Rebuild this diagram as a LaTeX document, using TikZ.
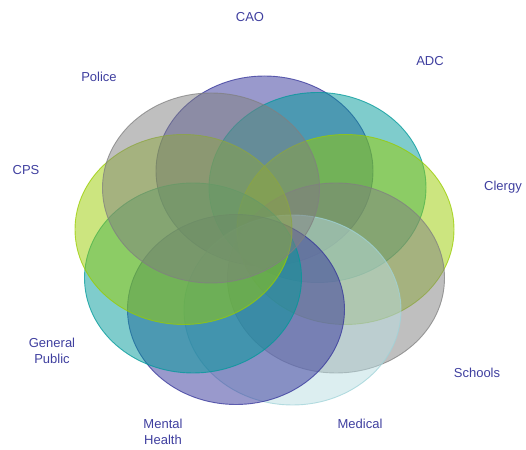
\documentclass[tikz,border=0pt]{standalone}
\usepackage{fontspec}
\setmainfont{Liberation Sans}
\definecolor{cpurple}{HTML}{333399}
\definecolor{cgray}{HTML}{808080}
\definecolor{cteal}{HTML}{009999}
\definecolor{cgreen}{HTML}{99CC00}
\definecolor{ccyan}{HTML}{B9DDE2}
\definecolor{ccyanedge}{HTML}{9FD3D8}
\definecolor{labelcol}{HTML}{3F3F9F}
\begin{document}
\begin{tikzpicture}[x=1pt,y=1pt,
  blob/.style={fill opacity=0.5,draw opacity=0.75,line width=0.9pt},
  lab/.style={text=labelcol,font=\fontsize{13}{15.5}\selectfont,align=center,inner sep=0pt}]
\useasboundingbox (0,0) rectangle (526,449);
\def\rx{108.5}\def\ry{95}
\path[blob,fill=cpurple,draw=cpurple] (264.5,278) ellipse [x radius=\rx,y radius=\ry];
\path[blob,fill=cteal,draw=cteal] (317.5,261.5) ellipse [x radius=\rx,y radius=\ry];
\path[blob,fill=cgreen,draw=cgreen] (345.5,219.5) ellipse [x radius=\rx,y radius=\ry];
\path[blob,fill=cgray,draw=cgray] (336,171) ellipse [x radius=\rx,y radius=\ry];
\path[blob,fill=ccyan,draw=ccyanedge] (292.5,139) ellipse [x radius=\rx,y radius=\ry];
\path[blob,fill=cpurple,draw=cpurple] (236,139.5) ellipse [x radius=\rx,y radius=\ry];
\path[blob,fill=cteal,draw=cteal] (193,171) ellipse [x radius=\rx,y radius=\ry];
\path[blob,fill=cgreen,draw=cgreen] (183.5,219.5) ellipse [x radius=\rx,y radius=\ry];
\path[blob,fill=cgray,draw=cgray] (211,261) ellipse [x radius=\rx,y radius=\ry];
\node[lab] (cao) at (250,432) {CAO};
\node[lab] (adc) at (430,388) {ADC};
\node[lab] (clergy) at (503,262) {Clergy};
\node[lab] (schools) at (477,76) {Schools};
\node[lab] (medical) at (360,25) {Medical};
\node[lab] (mental) at (163,17) {Mental\\Health};
\node[lab] (public) at (52,98) {General\\Public};
\node[lab] (cps) at (26,279) {CPS};
\node[lab] (police) at (99,372) {Police};
\end{tikzpicture}
\end{document}
